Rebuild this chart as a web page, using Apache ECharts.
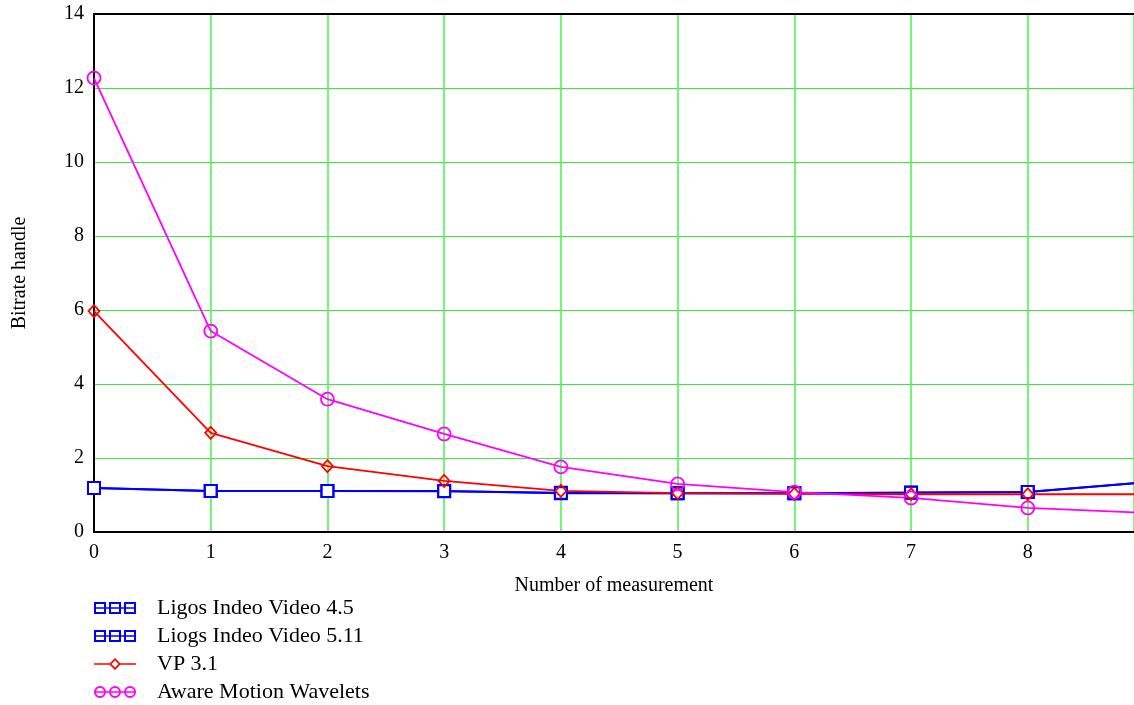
<!DOCTYPE html>
<html>
<head>
<meta charset="utf-8">
<script src="https://cdn.jsdelivr.net/npm/echarts@6/dist/echarts.min.js"></script>
<style>
html,body{margin:0;padding:0;background:#fff;}
#chart{width:1134px;height:705px;}
</style>
</head>
<body>
<div id="chart"></div>
<script>
// x positions (number of measurement); 9 lies just past the visible right edge
const measurements = [0, 1, 2, 3, 4, 5, 6, 7, 8, 9];
const seriesNames = ['Ligos Indeo Video 4.5', 'Liogs Indeo Video 5.11', 'VP 3.1', 'Aware Motion Wavelets'];
const ligos45  = [1.19, 1.11, 1.11, 1.11, 1.05, 1.05, 1.05, 1.07, 1.08, 1.34];
const ligos511 = [1.19, 1.11, 1.11, 1.10, 1.06, 1.05, 1.05, 1.06, 1.08, 1.34];
const vp31     = [5.97, 2.68, 1.78, 1.38, 1.11, 1.05, 1.03, 1.02, 1.02, 1.02];
const aware    = [12.27, 5.43, 3.59, 2.65, 1.76, 1.30, 1.08, 0.92, 0.65, 0.52];
const yTicks = [0, 2, 4, 6, 8, 10, 12, 14];

const pair = arr => measurements.map((x, i) => [x, arr[i]]);

const squaresIcon = 'path://M0 0H12V12H0Z M2 2V10H10V2Z M15 0H27V12H15Z M17 2V10H25V2Z M30 0H42V12H30Z M32 2V10H40V2Z M0 5.2H42V6.8H0Z';
const circlesIcon = 'path://M0 6A6 6 0 1 1 12 6A6 6 0 1 1 0 6Z M2 6A4 4 0 1 0 10 6A4 4 0 1 0 2 6Z M15 6A6 6 0 1 1 27 6A6 6 0 1 1 15 6Z M17 6A4 4 0 1 0 25 6A4 4 0 1 0 17 6Z M30 6A6 6 0 1 1 42 6A6 6 0 1 1 30 6Z M32 6A4 4 0 1 0 40 6A4 4 0 1 0 32 6Z M0 5.2H42V6.8H0Z';
const diamondIcon = 'path://M21 0L27 6L21 12L15 6Z M21 2.4L17.4 6L21 9.6L24.6 6Z M0 5.2H15.6V6.8H0Z M26.4 5.2H42V6.8H26.4Z';

const serif = '"Liberation Serif", "Times New Roman", serif';
const gridColor = '#3fe83f';

const legendItem = (name, icon, color) => ({
  name, icon,
  itemStyle: { color, borderWidth: 0, borderColor: color, opacity: 1 }
});

const chart = echarts.init(document.getElementById('chart'));
chart.setOption({
  animation: false,
  backgroundColor: '#fff',
  grid: { left: 94, top: 14, right: 0, bottom: 173, containLabel: false },
  legend: {
    orient: 'vertical',
    left: 94,
    top: 597,
    padding: 0,
    height: 110,
    itemWidth: 44,
    itemHeight: 12,
    itemGap: 6,
    selectedMode: false,
    textStyle: { fontFamily: serif, fontSize: 22, color: '#000', lineHeight: 21, padding: [0, 0, 0, 15] },
    data: [
      legendItem(seriesNames[0], squaresIcon, '#0000ff'),
      legendItem(seriesNames[1], squaresIcon, '#0000ff'),
      legendItem(seriesNames[2], diamondIcon, '#ff0000'),
      legendItem(seriesNames[3], circlesIcon, '#ff00ff')
    ]
  },
  xAxis: [{
    type: 'value',
    min: 0,
    max: 8.91,
    interval: 1,
    name: 'Number of measurement',
    nameLocation: 'middle',
    nameGap: 44,
    nameTextStyle: { fontFamily: serif, fontSize: 20, color: '#000' },
    axisLine: { show: true, onZero: false, lineStyle: { color: '#000', width: 2 } },
    axisTick: { show: false },
    axisLabel: {
      fontFamily: serif, fontSize: 20, color: '#000', margin: 11,
      showMaxLabel: false,
      formatter: v => (Number.isInteger(v) ? String(v) : '')
    },
    splitLine: { show: true, lineStyle: { color: '#55f055', width: 1.6 } }
  }, {
    type: 'value',
    position: 'top',
    min: 0,
    max: 8.91,
    interval: 1,
    axisLine: { show: true, onZero: false, lineStyle: { color: '#000', width: 2 } },
    axisTick: { show: false },
    axisLabel: { show: false },
    splitLine: { show: false }
  }],
  yAxis: {
    type: 'value',
    min: yTicks[0],
    max: yTicks[yTicks.length - 1],
    interval: 2,
    name: 'Bitrate handle',
    nameLocation: 'middle',
    nameGap: 64,
    nameRotate: 90,
    nameTextStyle: { fontFamily: serif, fontSize: 20, color: '#000' },
    axisLine: { show: true, onZero: false, lineStyle: { color: '#000', width: 2 } },
    axisTick: { show: false },
    axisLabel: { fontFamily: serif, fontSize: 20, color: '#000', margin: 10 },
    splitLine: { show: true, lineStyle: { color: gridColor, width: 1 } }
  },
  series: [
    {
      name: seriesNames[0], type: 'line', data: pair(ligos45),
      symbol: 'rect', symbolSize: 12,
      itemStyle: { color: '#fff', borderColor: '#0000ff', borderWidth: 2 },
      lineStyle: { color: '#0000ff', width: 2 },
      emphasis: { disabled: true }
    },
    {
      name: seriesNames[1], type: 'line', data: pair(ligos511),
      symbol: 'rect', symbolSize: 12,
      itemStyle: { color: 'rgba(255,255,255,0)', borderColor: '#0000ff', borderWidth: 2 },
      lineStyle: { color: '#0000ff', width: 2 },
      emphasis: { disabled: true }
    },
    {
      name: seriesNames[2], type: 'line', data: pair(vp31),
      symbol: 'diamond', symbolSize: [11, 12],
      itemStyle: { color: 'rgba(255,255,255,0)', borderColor: '#ff0000', borderWidth: 1.8 },
      lineStyle: { color: '#ff0000', width: 1.8 },
      emphasis: { disabled: true }
    },
    {
      name: seriesNames[3], type: 'line', data: pair(aware),
      symbol: 'circle', symbolSize: 13,
      itemStyle: { color: 'rgba(255,255,255,0)', borderColor: '#ff00ff', borderWidth: 1.8 },
      lineStyle: { color: '#ff00ff', width: 1.8 },
      emphasis: { disabled: true }
    }
  ]
});
</script>
</body>
</html>
